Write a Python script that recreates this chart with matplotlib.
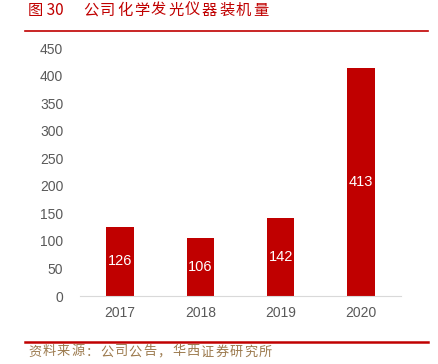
import matplotlib.pyplot as plt
from matplotlib.lines import Line2D

plt.rcParams["font.family"] = ["Noto Sans CJK SC", "DejaVu Sans"]

years = ["2017", "2018", "2019", "2020"]
installs = [126, 106, 142, 413]
yticks = [0, 50, 100, 150, 200, 250, 300, 350, 400, 450]
title_no = "图 30"
title = "公司化学发光仪器装机量"
source = "资料来源：公司公告，华西证券研究所"

red = "#C00000"
W, H = 438, 364
fig = plt.figure(figsize=(W / 100, H / 100), dpi=100)
ax = fig.add_axes([80 / W, (H - 296) / H, (401 - 80) / W, (296 - 48) / H])

x = range(len(years))
bars = ax.bar(x, installs, width=0.34, color=red)
for b, v in zip(bars, installs):
    ax.text(b.get_x() + b.get_width() / 2, v / 2, str(v), ha="center", va="center",
            color="white", fontsize=10.5, family=["Liberation Sans", "DejaVu Sans"])

ax.set_xlim(-0.5, len(years) - 0.5)
ax.set_ylim(0, 450)
ax.set_xticks(list(x))
ax.set_xticklabels(years)
ax.set_yticks(yticks)
for s in ["top", "right", "left"]:
    ax.spines[s].set_visible(False)
ax.spines["bottom"].set_color("#D9D9D9")
ax.tick_params(length=0, colors="#595959", labelsize=10)
ax.tick_params(axis="y", pad=12)
ax.tick_params(axis="x", pad=7)
for lab in ax.get_xticklabels() + ax.get_yticklabels():
    lab.set_family(["Liberation Sans", "DejaVu Sans"])

# letter-spaced header and footer, one glyph at a time
fig.text(28 / W, 1 - 10 / H, title_no, color=red, fontsize=11, va="center")
for i, ch in enumerate(title):
    fig.text((83 + i * 17) / W, 1 - 10 / H, ch, color=red, fontsize=11, va="center")
fig.add_artist(Line2D([25 / W, 428 / W], [1 - 30.5 / H] * 2, color=red, lw=1.2))
fig.add_artist(Line2D([25 / W, 428 / W], [1 - 341.5 / H] * 2, color=red, lw=1.8))
for i, ch in enumerate(source):
    fig.text((28 + i * 14.4) / W, 1 - 352 / H, ch, color="#9C7A4E", fontsize=9.5, va="center")

fig.savefig("out.png", dpi=100)
